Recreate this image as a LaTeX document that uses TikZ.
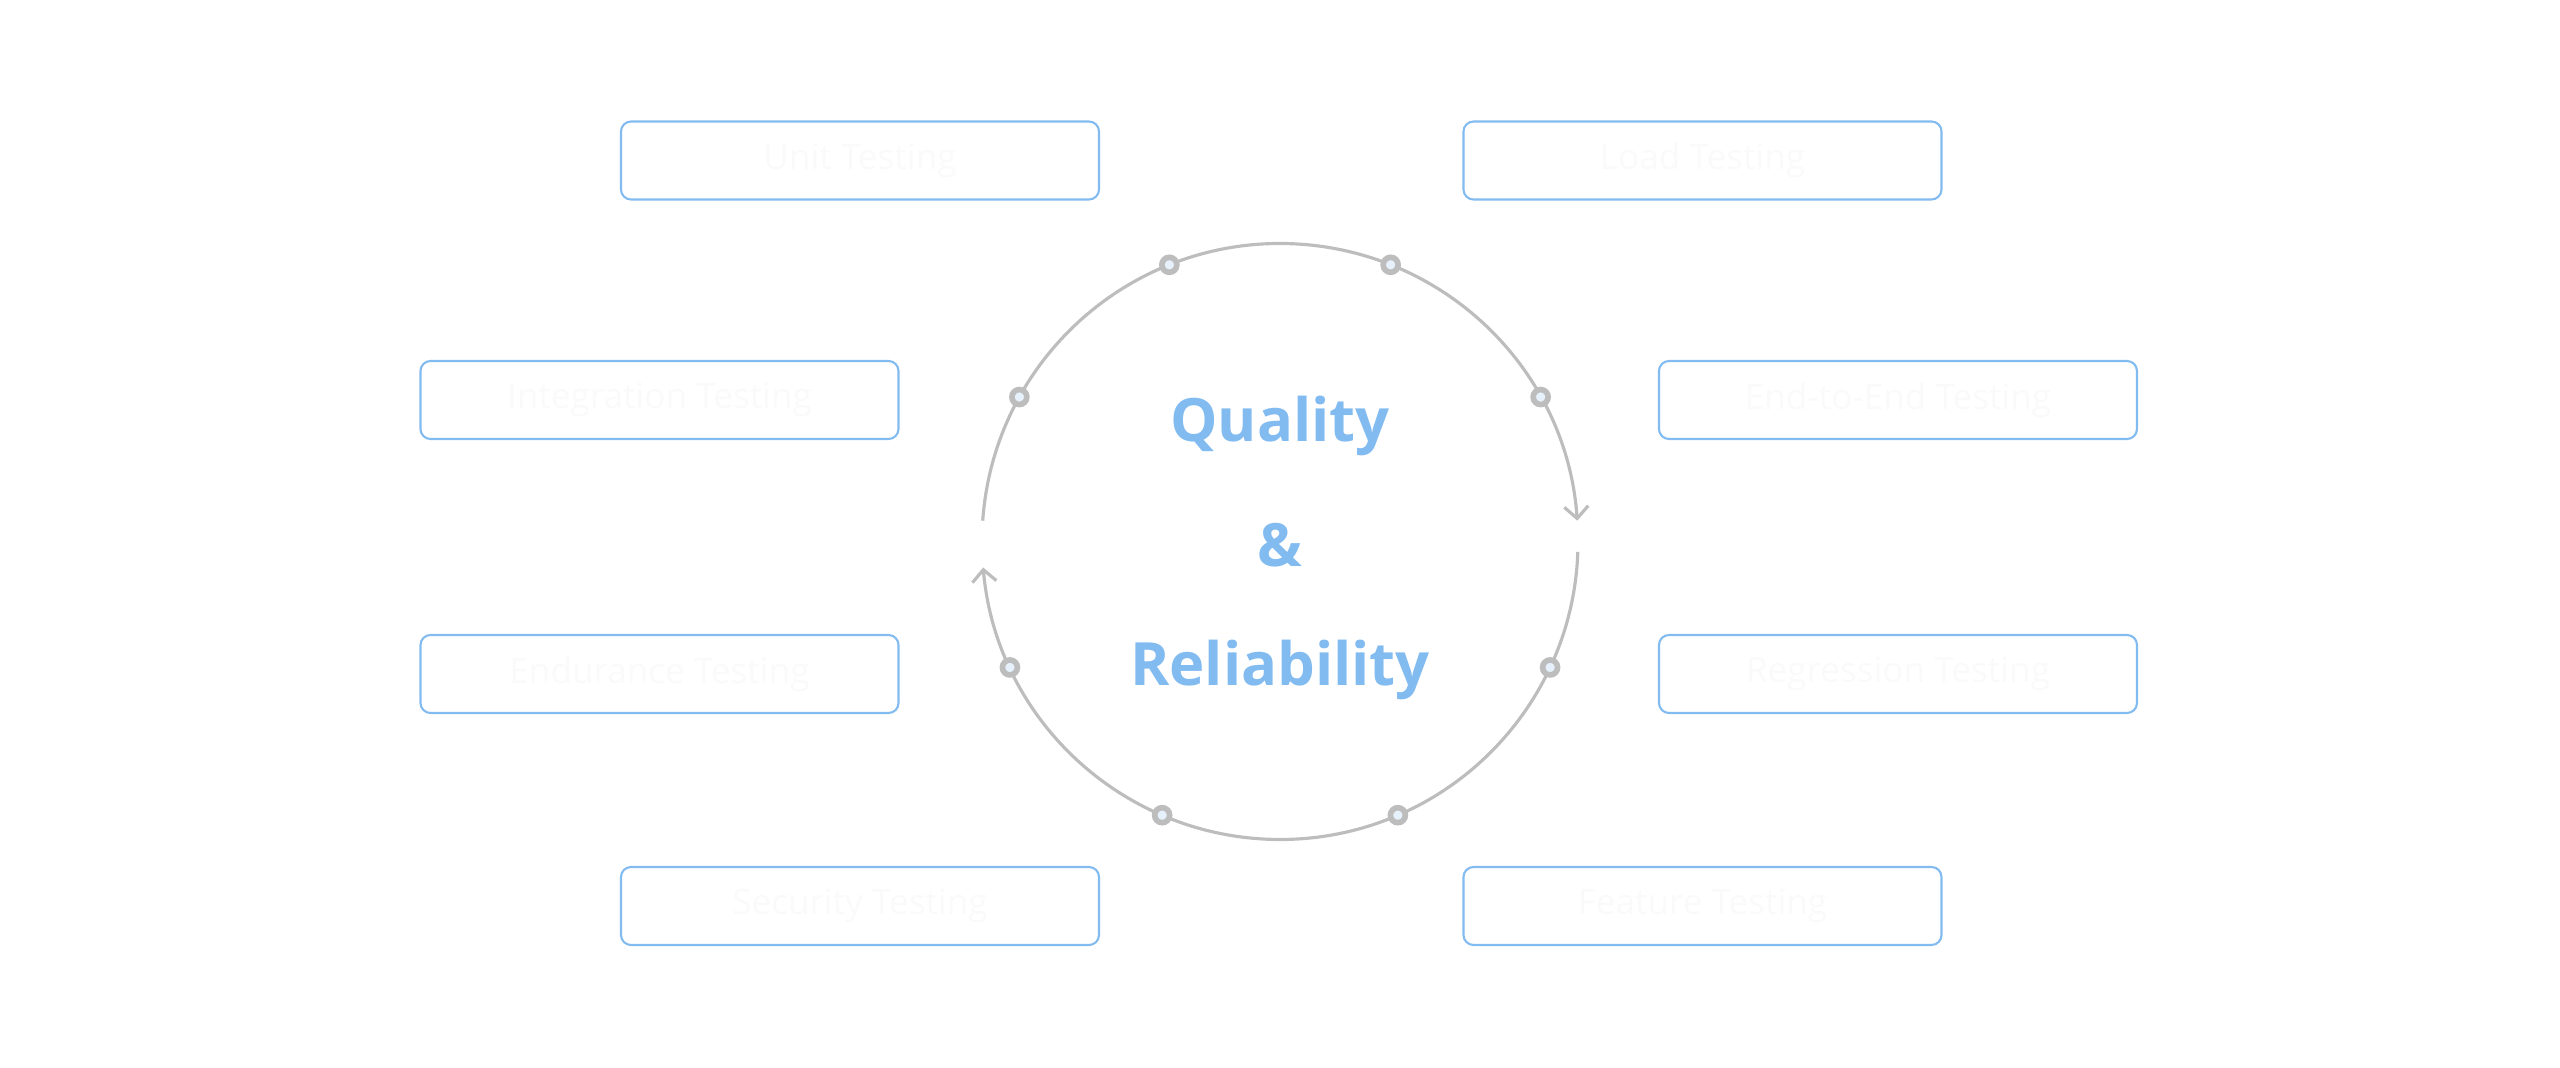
\documentclass[tikz,border=0pt]{standalone}
\usepackage{fontspec}
\setmainfont{Open Sans}
\usetikzlibrary{arrows.meta}
\definecolor{boxblue}{HTML}{82BBF0}
\definecolor{ringgrey}{HTML}{BDBDBD}
\definecolor{dotfill}{HTML}{E6F1FC}
\definecolor{faint}{HTML}{FAFAFA}
\tikzset{
  testbox/.style={draw=boxblue, line width=0.6pt, rounded corners=0.1cm,
    minimum width=4.78cm, minimum height=0.78cm, text=faint, font=\fontsize{10}{12}\selectfont},
  ring/.style={draw=ringgrey, line width=0.9pt},
  ringdot/.style={circle, draw=ringgrey, fill=dotfill, line width=1.6pt, minimum size=0.15cm, inner sep=0pt},
  centertext/.style={text=boxblue, font=\bfseries\fontsize{17}{20}\selectfont}
}
\begin{document}
\begin{tikzpicture}
\useasboundingbox (0,0) rectangle (25.6,10.68);
% Center ring
\coordinate (c) at (12.80,5.265);
\def\rad{2.98}
\draw[ring, -{Straight Barb[length=0.12cm, width=0.24cm]}] ([shift={(176:\rad)}]c) arc[start angle=176, end angle=4, radius=\rad];
\draw[ring, -{Straight Barb[length=0.12cm, width=0.24cm]}] ([shift={(-2:\rad)}]c) arc[start angle=-2, end angle=-175, radius=\rad];
\foreach \a/\n in {111.8/d1, 68.2/d2, 151/d3, 29/d4, 205/d5, -25/d6, 246.7/d7, -66.7/d8}
  \node[ringdot] (\n) at ([shift={(\a:\rad)}]c) {};
% Center text
\node[centertext] (quality) at (12.80,6.42) {Quality};
\node[centertext] (amp) at (12.80,5.23) {\&};
\node[centertext] (reliab) at (12.80,3.98) {Reliability};
% Testing boxes
\node[testbox] (unit) at (8.60,9.075) {Unit Testing};
\node[testbox] (load) at (17.025,9.075) {Load Testing};
\node[testbox] (integ) at (6.595,6.68) {Integration Testing};
\node[testbox] (e2e) at (18.98,6.68) {End-to-End Testing};
\node[testbox] (endur) at (6.595,3.94) {Endurance Testing};
\node[testbox] (regr) at (18.98,3.94) {Regression Testing};
\node[testbox] (secur) at (8.60,1.62) {Security Testing};
\node[testbox] (feat) at (17.025,1.62) {Feature Testing};
\end{tikzpicture}
\end{document}
